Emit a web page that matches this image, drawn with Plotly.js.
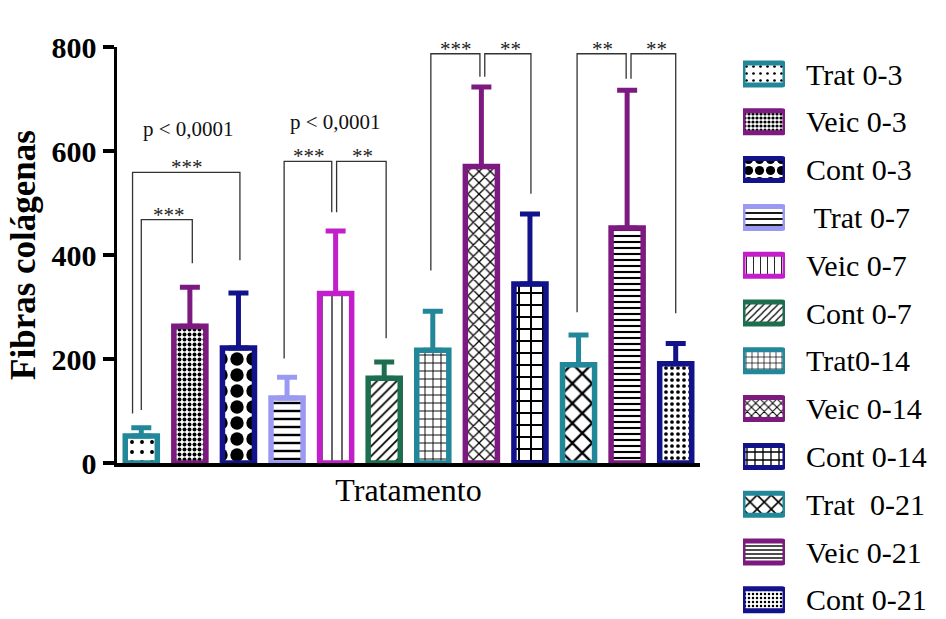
<!DOCTYPE html>
<html>
<head>
<meta charset="utf-8">
<script src="https://cdn.plot.ly/plotly-3.0.1.min.js"></script>
<style>html,body{margin:0;padding:0;background:#fff;}#chart{width:946px;height:619px;}</style>
</head>
<body>
<div id="chart"></div>
<script>
// ---------- data ----------
const categories = ['Trat 0-3','Veic 0-3','Cont 0-3','\u00a0Trat 0-7','Veic 0-7','Cont 0-7','Trat0-14','Veic 0-14','Cont 0-14','Trat\u00a0\u00a00-21','Veic 0-21','Cont 0-21'];
const means  = [52, 263, 221, 125, 326, 163, 217, 570, 344, 189, 452, 191];
const errUp  = [16, 75, 106, 40, 120, 31, 75, 153, 135, 57, 265, 39];
const colors = ['#23879a','#7c1a80','#12128a','#9a9af2','#c21ec9','#1d6e4e','#23879a','#7c1a80','#12128a','#23879a','#7c1a80','#12128a'];
const patShapes = ['.', '.', '.', '-', '|', '/', '+', 'x', '+', 'x', '-', '.'];
const patSizes  = [10, 5, 16, 8, 10, 7, 8, 8, 12, 14, 6, 6];
const patSolid  = [0.12, 0.5, 0.55, 0.3, 0.12, 0.25, 0.22, 0.3, 0.3, 0.3, 0.35, 0.3];

// significance brackets: [xLeft, xRight, yLeftBottom, yTop, yRightBottom] in category-index / value units
const brackets = [
  [0.00, 1.05, 102, 468, 384],
  [-0.18, 2.03, 95, 559, 390],
  [2.94, 3.92, 201, 580, 482],
  [4.02, 5.04, 482, 580, 240],
  [5.96, 6.97, 370, 787, 743],
  [7.07, 8.02, 743, 787, 518],
  [8.97, 9.98, 290, 787, 739],
  [10.08, 11.00, 739, 787, 288]
];
const starText = ['***','***','***','**','***','**','**','**'];
const starX    = [0.58, 0.94, 3.46, 4.55, 6.48, 7.60, 9.49, 10.60];
const pText = ['p < 0,0001','p < 0,0001','p < 0,0001','p =0,0039'];
const pX    = [0.97, 4.0, 6.95, 10.04];
const pY    = [642, 655, 858, 855];

// ---------- traces ----------
const traces = [];
categories.forEach((c, i) => {
  traces.push({
    type: 'bar', x: [i], y: [means[i]], width: 0.66,
    xaxis: 'x', yaxis: 'y', showlegend: false, cliponaxis: false,
    marker: {
      color: '#ffffff',
      line: {color: colors[i], width: 5.5},
      pattern: {shape: patShapes[i], size: patSizes[i], solidity: patSolid[i],
                fgcolor: '#000000', bgcolor: '#ffffff', fillmode: 'replace'}
    },
    error_y: {type: 'data', symmetric: false, array: [errUp[i]], arrayminus: [0],
              color: colors[i], thickness: 5, width: 10},
    hoverinfo: 'skip'
  });
});
// legend swatches (separate axes on right)
categories.forEach((c, i) => {
  traces.push({
    type: 'bar', orientation: 'h', x: [1], y: [i], width: 0.46,
    xaxis: 'x2', yaxis: 'y2', showlegend: false, cliponaxis: false,
    marker: {
      color: '#ffffff', cornerradius: 3,
      line: {color: colors[i], width: 5},
      pattern: {shape: patShapes[i], size: Math.max(4, Math.round(patSizes[i]*0.7)), solidity: patSolid[i],
                fgcolor: '#000000', bgcolor: '#ffffff', fillmode: 'replace'}
    },
    hoverinfo: 'skip'
  });
});

// ---------- shapes & annotations ----------
const shapes = brackets.map(b => ({
  type: 'path', xref: 'x', yref: 'y',
  path: `M${b[0]},${b[2]} L${b[0]},${b[3]} L${b[1]},${b[3]} L${b[1]},${b[4]}`,
  line: {color: '#333333', width: 1.3}
}));
const annotations = [];
brackets.forEach((b, k) => {
  annotations.push({xref: 'x', yref: 'y', x: starX[k], y: b[3], text: starText[k],
    showarrow: false, yanchor: 'bottom', yshift: -9,
    font: {family: 'Liberation Serif', size: 21, color: '#222'}});
});
pText.forEach((t, k) => {
  annotations.push({xref: 'x', yref: 'y', x: pX[k], y: pY[k], text: t,
    showarrow: false, yanchor: 'middle',
    font: {family: 'Liberation Serif', size: 21, color: '#111'}});
});

const W = 946, H = 619;
const legTop = 74, legStep = 47.8;
const layout = {
  width: W, height: H,
  margin: {l: 0, r: 0, t: 0, b: 0},
  paper_bgcolor: '#fff', plot_bgcolor: 'rgba(0,0,0,0)',
  barmode: 'overlay',
  showlegend: false,
  font: {family: 'Liberation Serif', color: '#000'},
  xaxis: {
    domain: [117/W, 700/W], range: [-0.5, 11.5], type: 'linear',
    showgrid: false, zeroline: false, showline: true, linecolor: '#000', linewidth: 3.5,
    ticks: '', showticklabels: false,
    title: {text: 'Tratamento', font: {family: 'Liberation Serif', size: 32, color: '#000'}, standoff: 14}
  },
  yaxis: {
    domain: [1 - 463/H, 1 - 47/H], range: [0, 800],
    tickvals: [0, 200, 400, 600, 800],
    showgrid: false, zeroline: false, showline: true, linecolor: '#000', linewidth: 3.5,
    ticks: 'outside', ticklen: 11, tickwidth: 3.5, tickcolor: '#000',
    tickfont: {family: 'Liberation Serif', size: 30, weight: 'bold', color: '#000'},
    title: {text: 'Fibras colágenas', font: {family: 'Liberation Serif', size: 35, weight: 'bold', color: '#000'}, standoff: 6}
  },
  xaxis2: {
    domain: [743/W, 785/W], range: [0, 1], anchor: 'y2',
    showgrid: false, zeroline: false, showline: false, showticklabels: false, ticks: ''
  },
  yaxis2: {
    domain: [0, 1], range: [(H - legTop) / legStep, -legTop / legStep], anchor: 'x2', side: 'right',
    tickvals: categories.map((c, i) => i), ticktext: categories,
    showgrid: false, zeroline: false, showline: false, ticks: '',
    ticklabelstandoff: 20, ticklabeloverflow: 'allow',
    tickfont: {family: 'Liberation Serif', size: 30, color: '#000'}
  },
  shapes: shapes,
  annotations: annotations
};

Plotly.newPlot('chart', traces, layout, {displayModeBar: false, staticPlot: true});
</script>
</body>
</html>
